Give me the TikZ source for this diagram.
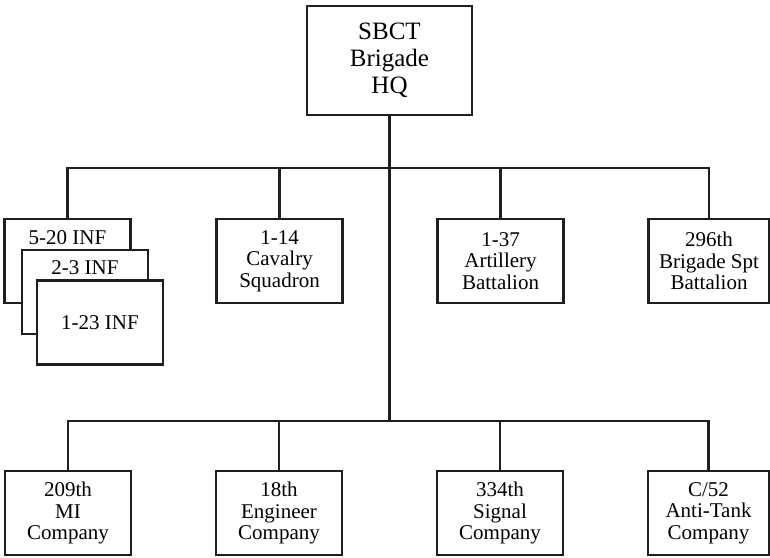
\documentclass[tikz,border=0pt]{standalone}
\usepackage{fontspec}
\setmainfont{Liberation Serif}
\usetikzlibrary{positioning}

\tikzset{
  unit/.style={draw=black!88, line width=2.2pt, fill=white, outer sep=0pt, inner sep=0pt,
    minimum width=126pt, minimum height=84pt, align=center,
    font=\fontsize{21}{21.5}\selectfont},
  hqbox/.style={unit, minimum width=165pt, minimum height=109pt,
    font=\fontsize{25}{27}\selectfont},
  link/.style={draw=black!88, line width=2.2pt}
}

\begin{document}
\begin{tikzpicture}[x=1pt, y=-1pt]
\useasboundingbox (0,0) rectangle (770,557);
%the headquarters on top
\node[hqbox] (hq) at (389.5,60.5) {SBCT\\Brigade\\HQ};
\coordinate (upper) at (389.5,168);
\coordinate (lower) at (389.5,421);
%the units along the top
\node[unit, label={[anchor=north, yshift=-11pt, inner sep=0pt, font=\fontsize{21}{21.5}\selectfont]north:5-20 INF}] (inf1) at (67.5,261) {};
\node[unit, label={[anchor=north, yshift=-10pt, inner sep=0pt, font=\fontsize{21}{21.5}\selectfont]north:2-3 INF}] (inf2) at ([shift={(17.5,31)}]inf1) {};
\node[unit] (inf3) at ([shift={(15,30.5)}]inf2) {1-23 INF};
\node[unit, right=86pt of inf1] (cav) {1-14\\Cavalry\\Squadron};
\node[unit, right=95pt of cav] (art) {1-37\\Artillery\\Battalion};
\node[unit, minimum width=121pt, right=85pt of art] (bsb) {296th\\Brigade Spt\\Battalion};
%the companies along the bottom
\node[unit] (mi) at (68,513) {209th\\MI\\Company};
\node[unit, right=85pt of mi] (eng) {18th\\Engineer\\Company};
\node[unit, right=95pt of eng] (sig) {334th\\Signal\\Company};
\node[unit, minimum width=121pt, right=85pt of sig] (at) {C/52\\Anti-Tank\\Company};
%the lines
\draw[link] (hq.south) -- (lower);
\draw[link] (inf1.north) |- (upper) -| (bsb.north);
\draw[link] (cav.north) -- (cav.north |- upper);
\draw[link] (art.north) -- (art.north |- upper);
\draw[link] (mi.north) |- (lower) -| (at.north);
\draw[link] (eng.north) -- (eng.north |- lower);
\draw[link] (sig.north) -- (sig.north |- lower);
\end{tikzpicture}
\end{document}
